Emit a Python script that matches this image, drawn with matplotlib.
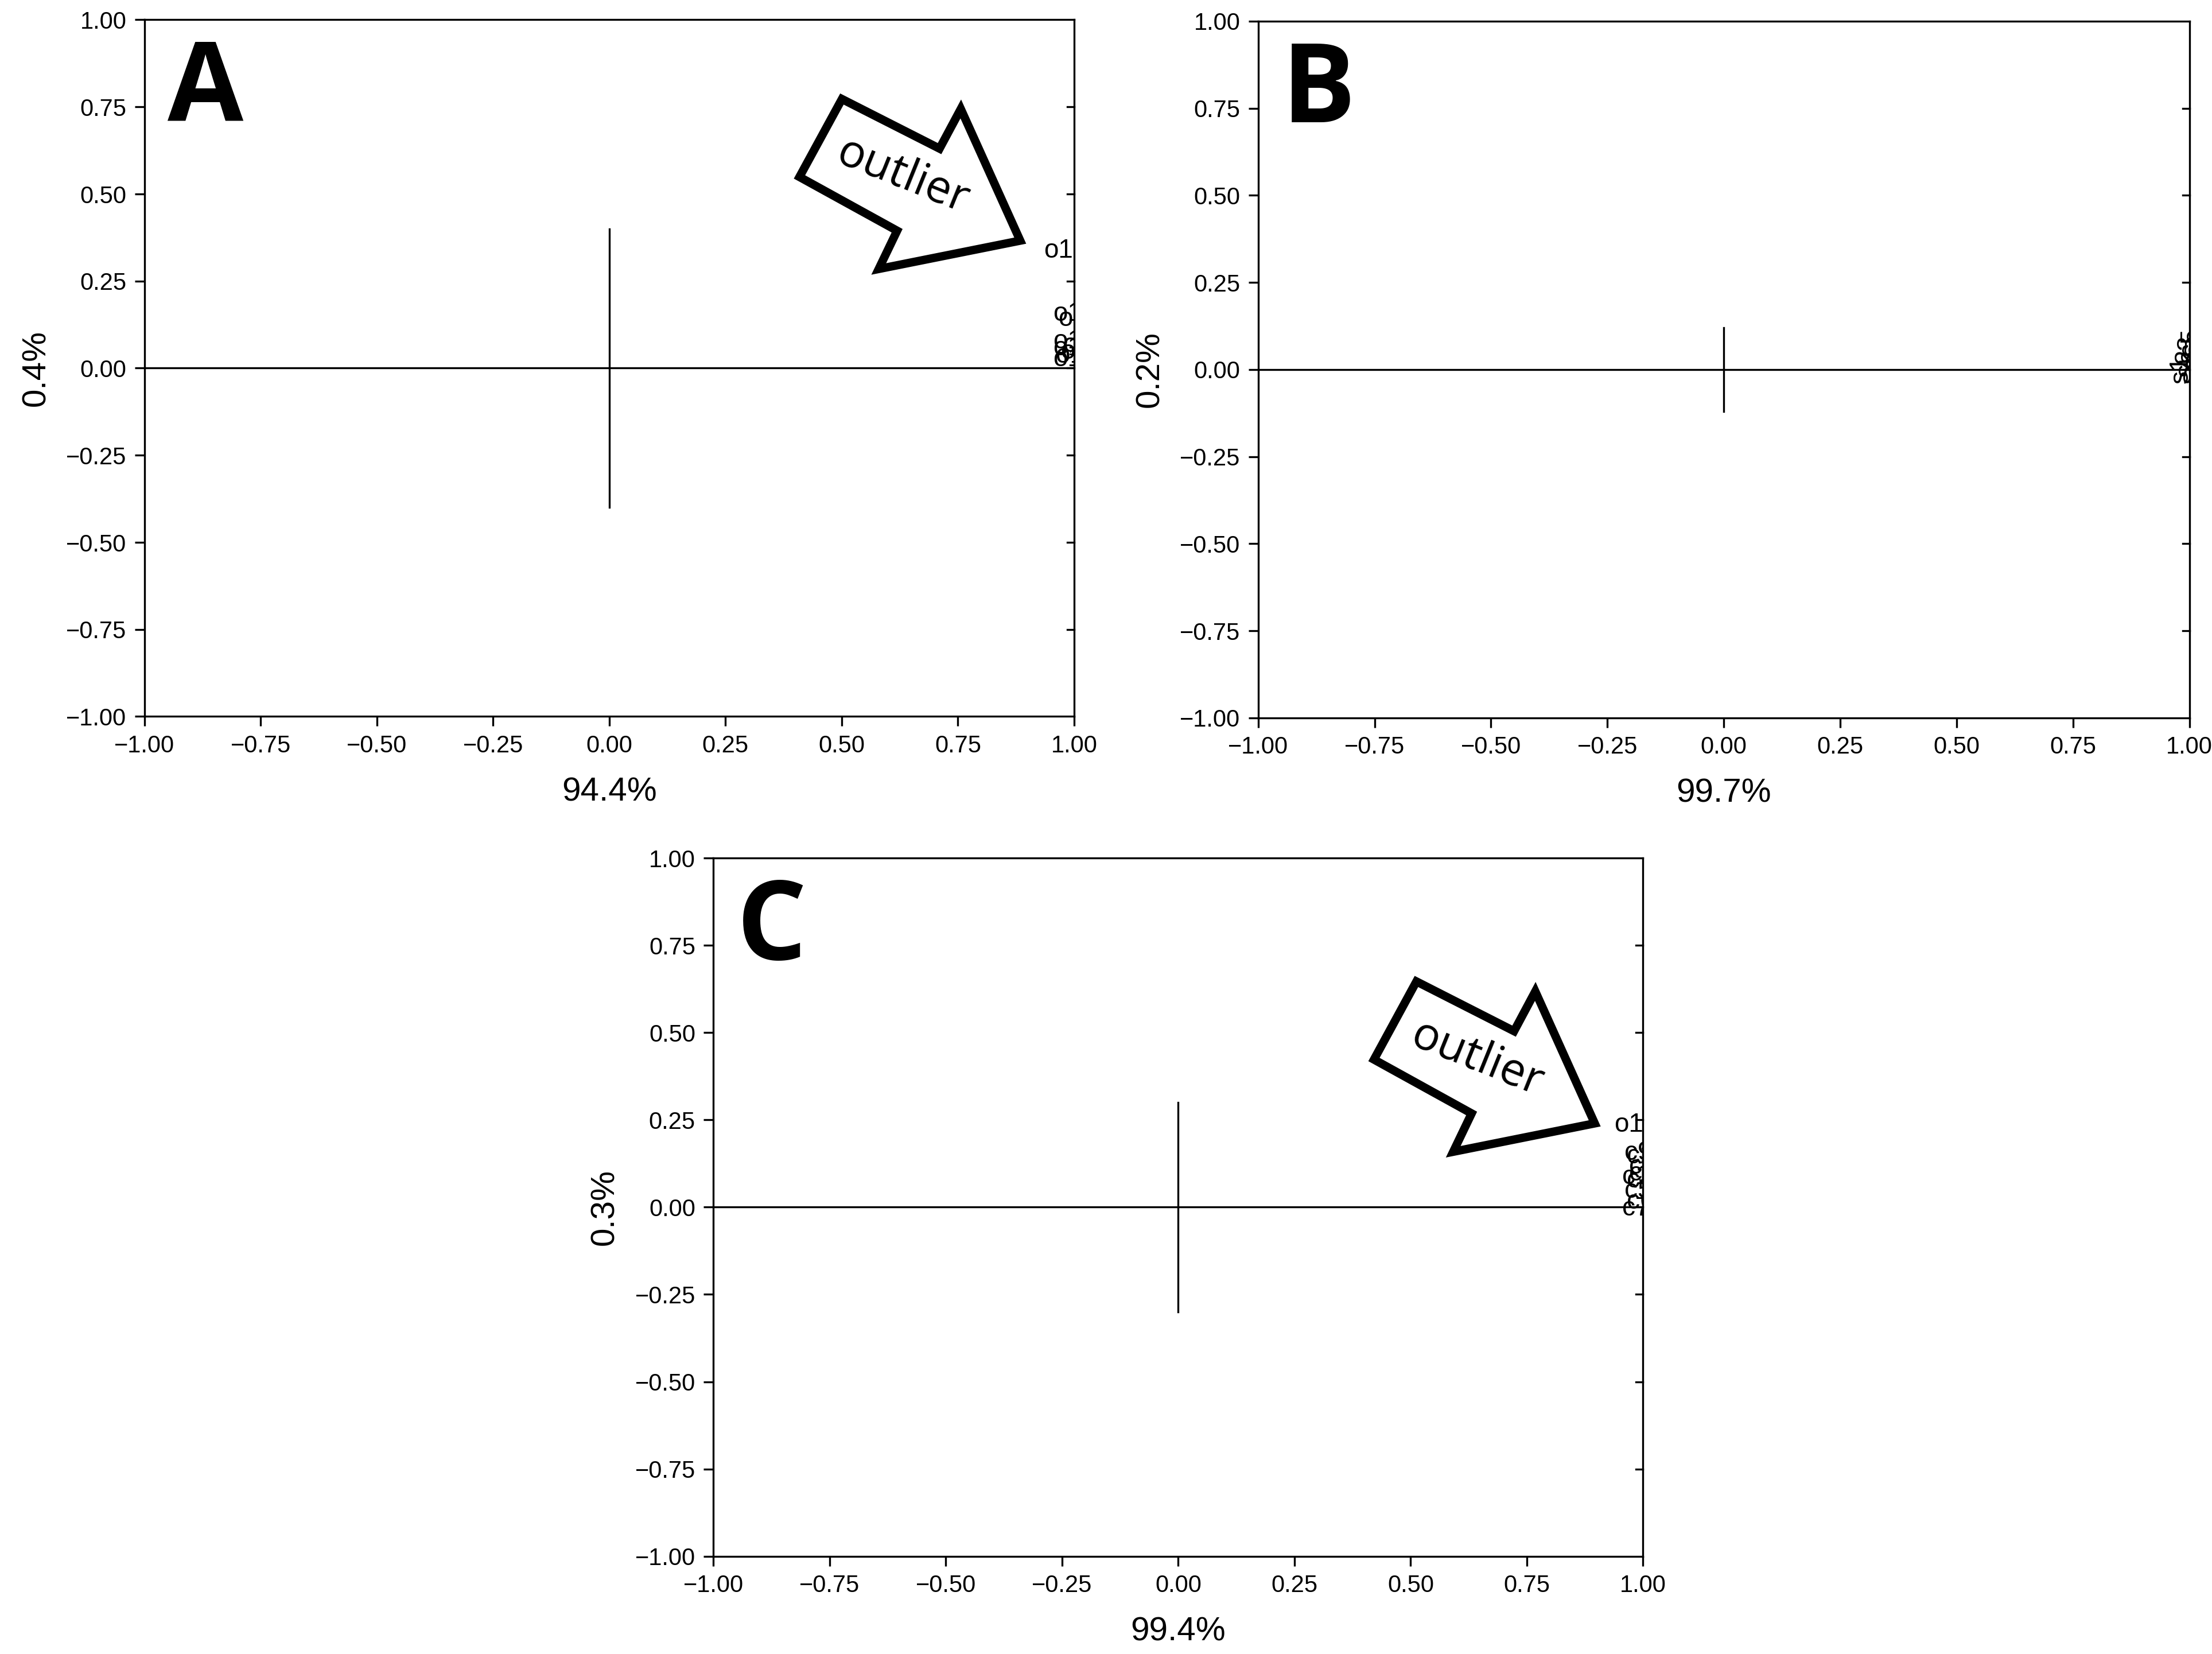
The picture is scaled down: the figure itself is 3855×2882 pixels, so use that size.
import matplotlib
matplotlib.use("Agg")
import matplotlib.pyplot as plt
from matplotlib.patches import Polygon

plt.rcParams['font.family'] = ['Liberation Sans', 'DejaVu Sans']

# ---- data ----
ticks = [-1.00, -0.75, -0.50, -0.25, 0.00, 0.25, 0.50, 0.75, 1.00]
panel_letters = ["A", "B", "C"]
x_labels = ["94.4%", "99.7%", "99.4%"]
y_labels = ["0.4%", "0.2%", "0.3%"]
cross_half = [0.40, 0.12, 0.30]

# sample labels (name, x, y)
a_names = ["o1", "o1", "o1", "o1", "o1", "o1", "o1", "o1", "o1"]
a_x = [0.935, 0.955, 0.965, 0.955, 0.955, 0.96, 0.955, 0.975, 0.97]
a_y = [0.30, 0.12, 0.105, 0.04, 0.02, 0.0, -0.01, 0.03, 0.01]

b_names = ["s1", "s2", "s3", "s4", "s5", "s6"]
b_x = [0.955, 0.965, 0.970, 0.975, 0.978, 0.982]
b_y = [-0.04, -0.02, 0.02, -0.04, 0.04, 0.00]

c_names = ["o1", "c1", "c2", "c3", "c4", "c5", "c6", "c7", "c8", "c9"]
c_x = [0.938, 0.955, 0.965, 0.97, 0.965, 0.96, 0.965, 0.955, 0.97, 0.96]
c_y = [0.20, 0.05, 0.11, 0.08, 0.04, 0.01, -0.02, -0.04, 0.06, 0.12]

names = [a_names, b_names, c_names]
xs = [a_x, b_x, c_x]
ys = [a_y, b_y, c_y]
rots = [0, 90, 0]
has_arrow = [True, False, True]

# arrow outline in axes pixel units relative to tip (displayed-scale px), y down
arrow_shape = [(-126, -100), (-57, -65), (-42, -93), (0, 0), (-100, 20), (-87, -7), (-156, -45)]
arrow_tip = [(0.942, 0.683), None, (0.948, 0.62)]

fig = plt.figure(figsize=(12.85, 9.607), dpi=300)
rects = [[0.0653, 0.5668, 0.4203, 0.4212],
         [0.5688, 0.5660, 0.4210, 0.4212],
         [0.3225, 0.0591, 0.4203, 0.4221]]

for i in range(3):
    ax = fig.add_axes(rects[i])
    ax.set_xlim(-1, 1)
    ax.set_ylim(-1, 1)
    ax.set_xticks(ticks)
    ax.set_yticks(ticks)
    ax.set_xticklabels([f"{t:.2f}".replace("-", "\u2212") for t in ticks], fontsize=10)
    ax.set_yticklabels([f"{t:.2f}".replace("-", "\u2212") for t in ticks], fontsize=10)
    ax.tick_params(axis='x', direction='out', length=4, width=0.8, top=False)
    ax.tick_params(axis='y', direction='out', length=4, width=0.8, right=False)
    for t in ticks[1:-1]:
        ax.plot([1, 0.985], [t, t], color='black', lw=0.8, clip_on=False)
    for s in ax.spines.values():
        s.set_linewidth(0.8)
    ax.set_xlabel(x_labels[i], fontsize=14, labelpad=8)
    ax.set_ylabel(y_labels[i], fontsize=14, labelpad=6)
    ax.plot([-1, 1], [0, 0], color='black', lw=0.8)
    ax.plot([0, 0], [-cross_half[i], cross_half[i]], color='black', lw=0.8)
    ax.text(0.025, 0.975, panel_letters[i], transform=ax.transAxes, fontsize=46,
            fontweight='bold', family=['Open Sans', 'DejaVu Sans'], va='top', ha='left')
    for n, x, y in zip(names[i], xs[i], ys[i]):
        ax.text(x, y, n, fontsize=11, rotation=rots[i], ha='left', va='bottom', clip_on=True)
    if has_arrow[i]:
        tx, ty = arrow_tip[i]
        w_px, h_px = 657.0, 492.0
        pts = [(tx + dx / w_px, ty - dy / h_px) for dx, dy in arrow_shape]
        ax.add_patch(Polygon(pts, closed=True, fill=False, lw=3.5, ec='black',
                             joinstyle='miter', transform=ax.transAxes))
        cx = tx - 83 / w_px
        cy = ty + 45 / h_px
        ax.text(cx, cy, "outlier", transform=ax.transAxes, fontsize=19, rotation=-22,
                ha='center', va='center', family=['Open Sans', 'DejaVu Sans'])

fig.savefig("out.png", dpi=300)
